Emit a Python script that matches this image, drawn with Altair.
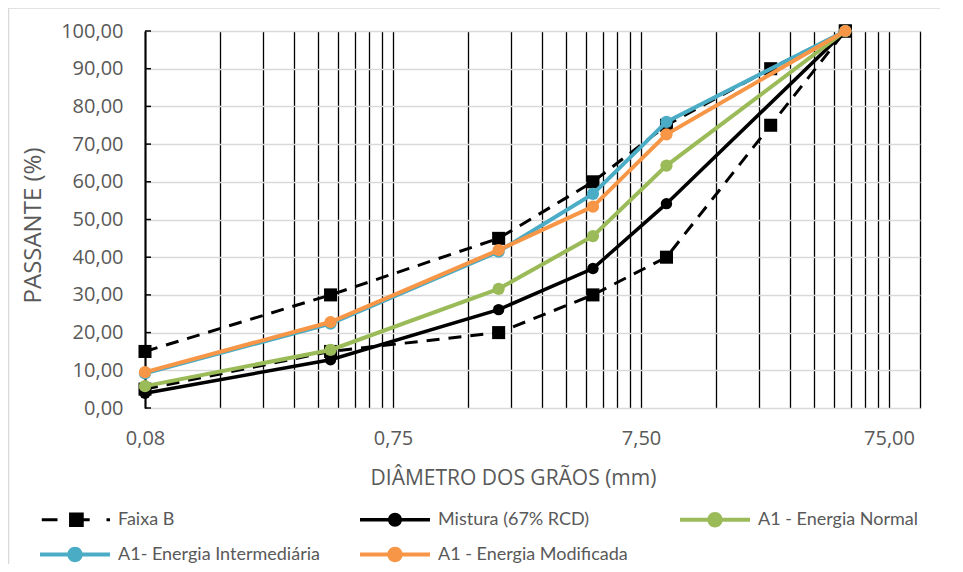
import altair as alt
import pandas as pd

# ---------------- data ----------------
sieves_faixa = [0.075, 0.42, 2.0, 4.8, 9.5, 25.0, 50.0]
faixa_b_inferior = [5, 15, 20, 30, 40, 75, 100]
faixa_b_superior = [15, 30, 45, 60, 75, 90, 100]

sieves_ensaio = [0.075, 0.42, 2.0, 4.8, 9.5, 50.0]
mistura = [3.9, 12.8, 26.1, 37.0, 54.2, 100.0]
energia_normal = [5.8, 15.4, 31.6, 45.6, 64.3, 100.0]
energia_intermediaria = [9.2, 22.4, 41.5, 56.8, 75.9, 100.0]
energia_modificada = [9.5, 22.8, 41.9, 53.4, 72.6, 100.0]

series_names = ["Faixa B", "Mistura (67% RCD)", "A1 - Energia Normal",
                "A1- Energia Intermediária", "A1 - Energia Modificada"]
series_colors = ["#000000", "#000000", "#9BBB59", "#4BACC6", "#F79646"]

x_major_values = [0.075, 0.75, 7.5, 75.0]
x_major_labels = ["0,08", "0,75", "7,50", "75,00"]
y_tick_values = [0, 10, 20, 30, 40, 50, 60, 70, 80, 90, 100]

# log-axis gridlines (1..9 x each decade starting at 0.075) + right edge
grid_values = [round(m * k, 6) for m in [0.075, 0.75, 7.5] for k in range(1, 10)] + [75.0, 100.0]

FONT_AX = "Open Sans"
GREY_TXT = "#595959"

label_expr = " : ".join(
    [f"datum.value == {v} ? '{l}'" for v, l in zip(x_major_values, x_major_labels)]
) + " : ''"

x_scale = alt.Scale(type="log", domain=[0.075, 100], nice=False)
y_scale = alt.Scale(domain=[0, 100], nice=False, zero=False)

x_axis = alt.Axis(
    values=grid_values, labelExpr=label_expr, grid=True, gridColor="#000000",
    gridWidth=1.3, ticks=False, tickSize=0, domain=False, labelFont=FONT_AX,
    labelFontSize=20, labelColor=GREY_TXT, labelPadding=20, labelOverlap=False,
    labelFlush=False, labelBound=False,
    title="DIÂMETRO DOS GRÃOS (mm)", titleFont=FONT_AX, titleFontSize=21,
    titleFontWeight="normal", titleColor=GREY_TXT, titleX=368, titleY=70,
    titleBaseline="middle", titleAlign="center",
)
y_axis = alt.Axis(
    values=y_tick_values, labelExpr="replace(format(datum.value, '.2f'), '.', ',')",
    grid=True, gridColor="#d9d9d9", gridWidth=1.5, ticks=False, tickSize=0,
    domain=True, domainColor="#000000", domainWidth=2, labelFont=FONT_AX,
    labelFontSize=20, labelColor=GREY_TXT, labelPadding=22,
    title="PASSANTE (%)", titleFont=FONT_AX, titleFontSize=24,
    titleFontWeight="normal", titleColor=GREY_TXT, titleX=-112, titleY=194,
    titleAngle=270, titleBaseline="middle", titleAlign="center",
)

X = alt.X("d:Q", scale=x_scale, axis=x_axis)
Y = alt.Y("p:Q", scale=y_scale, axis=y_axis)

layers = []

# chart-area border
border_df = pd.DataFrame({"a": [0]})
layers.append(
    alt.Chart(border_df).mark_rect(fillOpacity=0, stroke="#d9d9d9", strokeWidth=1.5).encode(
        x=alt.value(-136.5), x2=alt.value(830), y=alt.value(-23), y2=alt.value(600)
    )
)

# inner y ticks
tick_df = pd.DataFrame({"p": y_tick_values})
layers.append(
    alt.Chart(tick_df).mark_rule(color="#000000", strokeWidth=1.5).encode(
        y=Y, x=alt.value(0), x2=alt.value(6)
    )
)


def series_layers(xs, ys, color, width, dash, shape, size):
    df = pd.DataFrame({"d": xs, "p": ys})
    line_kw = dict(color=color, strokeWidth=width)
    if dash:
        line_kw["strokeDash"] = dash
    line = alt.Chart(df).mark_line(**line_kw).encode(x=X, y=Y)
    pts = alt.Chart(df).mark_point(filled=True, shape=shape, size=size, color=color,
                                   opacity=1, strokeWidth=0).encode(x=X, y=Y)
    return [line, pts]


layers += series_layers(sieves_faixa, faixa_b_inferior, "#000000", 3, [13, 9], "square", 170)
layers += series_layers(sieves_faixa, faixa_b_superior, "#000000", 3, [13, 9], "square", 170)
layers += series_layers(sieves_ensaio, mistura, series_colors[1], 3.5, None, "circle", 130)
layers += series_layers(sieves_ensaio, energia_normal, series_colors[2], 4, None, "circle", 150)
layers += series_layers(sieves_ensaio, energia_intermediaria, series_colors[3], 4, None, "circle", 150)
layers += series_layers(sieves_ensaio, energia_modificada, series_colors[4], 4, None, "circle", 150)

# ---- legend (custom symbols: line + marker, drawn wider than the symbol box) ----
circ = lambda r: f"M{r},0 A{r},{r} 0 1,1 -{r},0 A{r},{r} 0 1,1 {r},0 Z"
bar = lambda h: f"M-2,-{h} L2,-{h} L2,{h} L-2,{h} Z"
faixa_path = ("M-1.9,-0.09 L-1.0,-0.09 L-1.0,0.09 L-1.9,0.09 Z "
              "M-0.34,-0.42 L0.5,-0.42 L0.5,0.42 L-0.34,0.42 Z "
              "M0.5,-0.09 L0.84,-0.09 L0.84,0.09 L0.5,0.09 Z "
              "M1.8,-0.09 L2,-0.09 L2,0.09 L1.8,0.09 Z")
paths = [faixa_path,
         bar(0.1) + " " + circ(0.4),
         bar(0.114) + " " + circ(0.44),
         bar(0.114) + " " + circ(0.44),
         bar(0.114) + " " + circ(0.44)]

legend = alt.Legend(
    orient="none", legendX=-87.5, legendY=471, direction="horizontal", columns=3,
    gridAlign="all", columnPadding=39, rowPadding=8, symbolSize=1225, title=None,
    labelFont="Lato", labelFontSize=18, labelColor=GREY_TXT, labelOffset=25.5,
    labelLimit=400, symbolStrokeWidth=0, symbolOpacity=1,
)
legend_df = pd.DataFrame({"serie": series_names})
layers.append(
    alt.Chart(legend_df).transform_filter("false").mark_point(
        filled=True, opacity=1, strokeWidth=0
    ).encode(
        color=alt.Color("serie:N", scale=alt.Scale(domain=series_names, range=series_colors), legend=legend),
        shape=alt.Shape("serie:N", scale=alt.Scale(domain=series_names, range=paths), legend=legend),
    )
)

chart = alt.layer(*layers).properties(
    width=775, height=377, autosize="none",
    padding={"left": 137, "top": 23, "right": 20, "bottom": 156},
    background="#ffffff",
).configure_view(stroke=None)

chart.save("out.html", embed_options={"renderer": "svg", "actions": False})
